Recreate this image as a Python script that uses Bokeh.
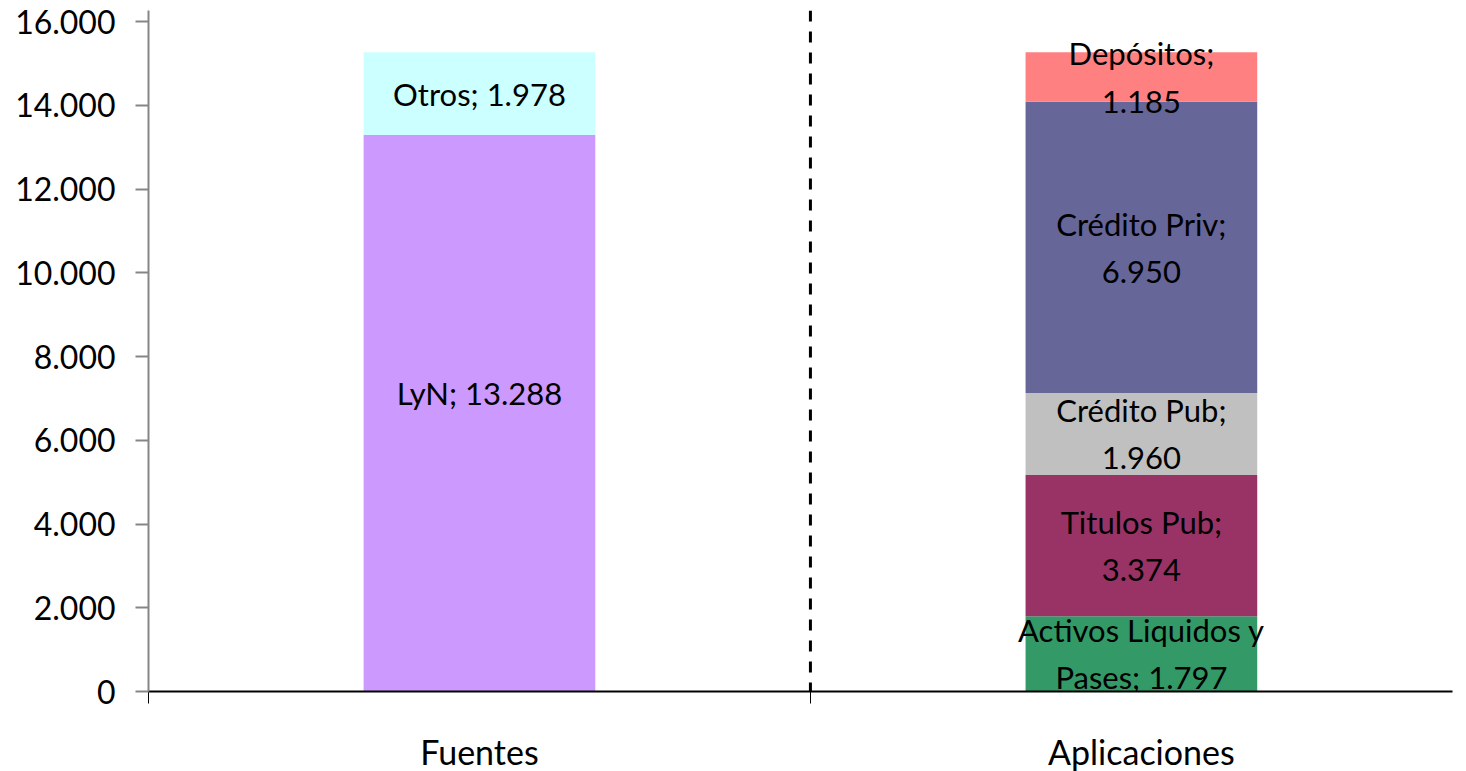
from bokeh.plotting import figure
from bokeh.models import Range1d, FixedTicker, Span, ColumnDataSource
from bokeh.core.properties import value
from bokeh.embed import file_html
from bokeh.resources import INLINE

categories = ["Fuentes", "Aplicaciones"]

fuentes_names = ["LyN", "Otros"]
fuentes_values = [13288, 1978]
fuentes_labels = ["LyN; 13.288", "Otros; 1.978"]
fuentes_colors = ["#CC99FF", "#CCFFFF"]

aplic_names = ["Activos Liquidos y Pases", "Titulos Pub", "Crédito Pub", "Crédito Priv", "Depósitos"]
aplic_values = [1797, 3374, 1960, 6950, 1185]
aplic_labels = ["Activos Liquidos y\nPases; 1.797", "Titulos Pub;\n3.374", "Crédito Pub;\n1.960",
                "Crédito Priv;\n6.950", "Depósitos;\n1.185"]
aplic_colors = ["#339966", "#993366", "#C0C0C0", "#666699", "#FF8080"]

y_ticks = [0, 2000, 4000, 6000, 8000, 10000, 12000, 14000, 16000]
y_tick_labels = ["0", "2.000", "4.000", "6.000", "8.000", "10.000", "12.000", "14.000", "16.000"]

FONT = "Lato"

p = figure(width=1458, height=768, frame_width=1304, frame_height=681,
           output_backend="svg", toolbar_location=None,
           x_range=Range1d(0, 1.97), y_range=Range1d(0, 16263),
           min_border_left=148, min_border_top=10, min_border_right=6, min_border_bottom=77)
p.outline_line_color = None
p.grid.visible = False
p.background_fill_color = "white"
p.border_fill_color = "white"

bar_w = 0.35
# label nudges (screen px) to mimic the original label placement
label_nudge = {"LyN; 13.288": -20}

def stack(ci, vals, cols, labs):
    xc = ci + 0.5
    bottoms, tops, mids = [], [], []
    acc = 0
    for v in vals:
        bottoms.append(acc)
        tops.append(acc + v)
        mids.append(acc + v / 2)
        acc += v
    src = ColumnDataSource(dict(x=[xc] * len(vals), bottom=bottoms, top=tops, mid=mids,
                                color=cols, label=labs,
                                dy=[label_nudge.get(l, 0) for l in labs]))
    p.vbar(x="x", width=bar_w, bottom="bottom", top="top", fill_color="color",
           line_color=None, source=src)
    p.text(x="x", y="mid", text="label", source=src, text_align="center",
           text_baseline="middle", text_font=value(FONT), text_font_size="31px",
           text_color="black", text_line_height=1.24, y_offset="dy")

stack(categories.index("Fuentes"), fuentes_values, fuentes_colors, fuentes_labels)
stack(categories.index("Aplicaciones"), aplic_values, aplic_colors, aplic_labels)

# dashed separator between the two groups
p.add_layout(Span(location=1, dimension="height", line_color="black", line_width=3,
                  line_dash="11 10"))

# y axis
yax = p.yaxis[0]
yax.ticker = FixedTicker(ticks=y_ticks, minor_ticks=[])
yax.major_label_overrides = {t: l for t, l in zip(y_ticks, y_tick_labels)}
yax.axis_line_color = "#868686"
yax.axis_line_width = 2
yax.major_tick_line_color = "#868686"
yax.major_tick_line_width = 2
yax.major_tick_in = 0
yax.major_tick_out = 13
yax.minor_tick_line_color = None
yax.major_label_standoff = 20
yax.major_label_text_font = FONT
yax.major_label_text_font_size = "32px"
yax.major_label_text_color = "black"

# x axis
xax = p.xaxis[0]
xax.ticker = FixedTicker(ticks=[i + 0.5 for i in range(len(categories))], minor_ticks=[0, 1])
xax.major_label_overrides = {i + 0.5: c for i, c in enumerate(categories)}
xax.axis_line_color = "black"
xax.axis_line_width = 2
xax.major_tick_line_color = None
xax.major_tick_in = 0
xax.major_tick_out = 0
xax.minor_tick_line_color = "black"
xax.minor_tick_line_width = 1
xax.minor_tick_in = 0
xax.minor_tick_out = 12
xax.major_label_standoff = 27
xax.major_label_text_font = FONT
xax.major_label_text_font_size = "34px"
xax.major_label_text_color = "black"

open("out.html", "w").write(file_html(p, INLINE))
